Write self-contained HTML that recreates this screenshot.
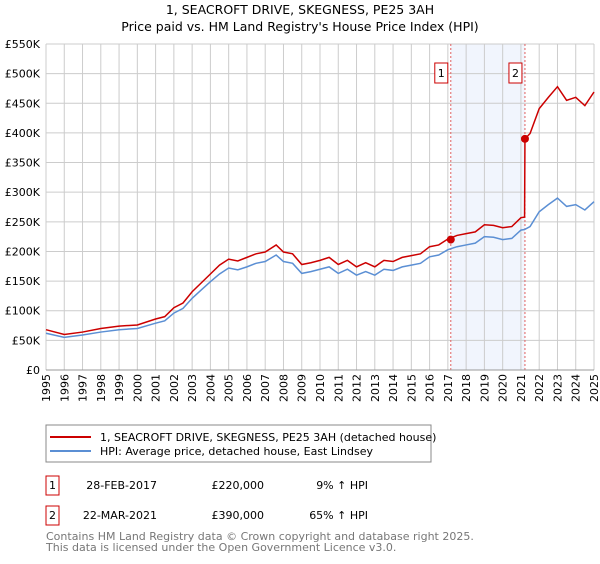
<!DOCTYPE html>
<html><head><meta charset="utf-8"><style>
body{margin:0;background:#fff;font-family:"DejaVu Sans","Liberation Sans",sans-serif;}
</style></head><body>
<svg width="600" height="560" xmlns="http://www.w3.org/2000/svg" style="font-family:'DejaVu Sans','Liberation Sans',sans-serif">
<text x="300" y="14" text-anchor="middle" font-size="12.5">1, SEACROFT DRIVE, SKEGNESS, PE25 3AH</text>
<text x="300" y="31" text-anchor="middle" font-size="12.5">Price paid vs. HM Land Registry's House Price Index (HPI)</text>
<g id="plot"></g>
<rect x="46" y="425" width="385" height="37" fill="#fff" stroke="#888"/>
<line x1="50" y1="437" x2="91" y2="437" stroke="#cc0000" stroke-width="2"/>
<text x="100" y="441" font-size="11">1, SEACROFT DRIVE, SKEGNESS, PE25 3AH (detached house)</text>
<line x1="50" y1="451" x2="91" y2="451" stroke="#5b8fd4" stroke-width="2"/>
<text x="100" y="455" font-size="11">HPI: Average price, detached house, East Lindsey</text>
<g font-size="11">
<rect x="46" y="476" width="13" height="19" fill="none" stroke="#cc0000"/>
<text x="52.5" y="489" text-anchor="middle">1</text>
<text x="157" y="489" text-anchor="end">28-FEB-2017</text>
<text x="264" y="489" text-anchor="end">£220,000</text>
<text x="368" y="489" text-anchor="end">9% ↑ HPI</text>
<rect x="46" y="506" width="13" height="19" fill="none" stroke="#cc0000"/>
<text x="52.5" y="519" text-anchor="middle">2</text>
<text x="157" y="519" text-anchor="end">22-MAR-2021</text>
<text x="264" y="519" text-anchor="end">£390,000</text>
<text x="368" y="519" text-anchor="end">65% ↑ HPI</text>
</g>
<text x="46" y="540" font-size="11" fill="#777">Contains HM Land Registry data © Crown copyright and database right 2025.</text>
<text x="46" y="551" font-size="11" fill="#777">This data is licensed under the Open Government Licence v3.0.</text>
</svg>
<script>
const yTicks=[0,50,100,150,200,250,300,350,400,450,500,550];
const yTickLabels=["£0","£50K","£100K","£150K","£200K","£250K","£300K","£350K","£400K","£450K","£500K","£550K"];
const hpiYears=[1995,1996,1997,1998,1999,2000,2001,2001.5,2002,2002.5,2003,2003.5,2004,2004.5,2005,2005.5,2006,2006.5,2007,2007.6,2008,2008.5,2009,2009.5,2010,2010.5,2011,2011.5,2012,2012.5,2013,2013.5,2014,2014.5,2015,2015.5,2016,2016.5,2017,2017.5,2018,2018.5,2019,2019.5,2020,2020.5,2021,2021.2,2021.5,2022,2022.5,2023,2023.5,2024,2024.5,2025];
const hpiValues=[62,55,59,64,68,70,79,83,96,104,121,135,149,162,172,169,174,180,183,194,183,180,163,166,170,174,163,170,160,166,160,170,168,174,177,180,191,194,203,208,211,214,225,224,220,222,236,237,242,267,279,290,276,279,270,284];
const priceYears=[1995,1996,1997,1998,1999,2000,2001,2001.5,2002,2002.5,2003,2003.5,2004,2004.5,2005,2005.5,2006,2006.5,2007,2007.6,2008,2008.5,2009,2009.5,2010,2010.5,2011,2011.5,2012,2012.5,2013,2013.5,2014,2014.5,2015,2015.5,2016,2016.5,2017,2017.5,2018,2018.5,2019,2019.5,2020,2020.5,2021,2021.2,2021.22,2021.5,2022,2022.5,2023,2023.5,2024,2024.5,2025];
const priceValues=[68,60,64,70,74,76,86,90,105,113,132,147,162,177,187,184,190,196,199,211,199,196,178,181,185,190,178,185,174,181,174,185,183,190,193,196,208,211,221,227,230,233,245,244,240,242,257,258,390,399,441,460,478,455,460,446,469];
const saleYears=[2017.16,2021.22];
const saleValues=[220,390];
const saleLabels=["1","2"];
const NS="http://www.w3.org/2000/svg";
const X0=46,X1=594,Y0=370,Y1=44;
const xs=y=>X0+(y-1995)/30*(X1-X0);
const ys=v=>Y0-v/550*(Y0-Y1);
const g=document.getElementById('plot');
function mk(t,a){const e=document.createElementNS(NS,t);for(const k in a)e.setAttribute(k,a[k]);g.appendChild(e);return e;}
const sh=mk('rect',{x:xs(saleYears[0]),y:Y1,width:xs(saleYears[1])-xs(saleYears[0]),height:Y0-Y1,fill:'#eef3fc',opacity:0.8});


for(let yr=1995;yr<=2025;yr++){
 const l=mk('line',{x1:xs(yr),x2:xs(yr),y1:Y1,y2:Y0,stroke:'#ccc'});
 
 
 const t=mk('text',{x:0,y:0,'font-size':11,'text-anchor':'end',transform:`translate(${xs(yr)+4},374) rotate(-90)`});
 t.textContent=yr;
 
 
}
yTicks.forEach((v,i)=>{
 const l=mk('line',{x1:X0,x2:X1,y1:ys(v),y2:ys(v),stroke:'#ccc'});
 
 
 const t=mk('text',{x:40,y:ys(v)+4,'font-size':11,'text-anchor':'end'});
 t.textContent=yTickLabels[i];
 
 
});
saleYears.forEach((yr,i)=>{
 const l=mk('line',{x1:xs(yr),x2:xs(yr),y1:Y1,y2:Y0,stroke:'#e06060','stroke-dasharray':'2,2'});
 
 
});
const hp=mk('polyline',{points:hpiYears.map((y,i)=>xs(y)+','+ys(hpiValues[i])).join(' '),fill:'none',stroke:'#5b8fd4','stroke-width':1.5});


const pp=mk('polyline',{points:priceYears.map((y,i)=>xs(y)+','+ys(priceValues[i])).join(' '),fill:'none',stroke:'#cc0000','stroke-width':1.5});


saleYears.forEach((yr,i)=>{
 const c=mk('circle',{cx:xs(yr),cy:ys(saleValues[i]),r:4,fill:'#cc0000'});
 
 
 const r=mk('rect',{x:xs(yr)-16,y:63,width:13,height:20,fill:'#fff',stroke:'#cc0000'});
 
 
 const t=mk('text',{x:xs(yr)-9.5,y:77,'font-size':11,'text-anchor':'middle'});
 t.textContent=saleLabels[i];
 
 
});
const ax=mk('line',{x1:X0,x2:X1,y1:Y0,y2:Y0,stroke:'#999'});


</script>
</body></html>
